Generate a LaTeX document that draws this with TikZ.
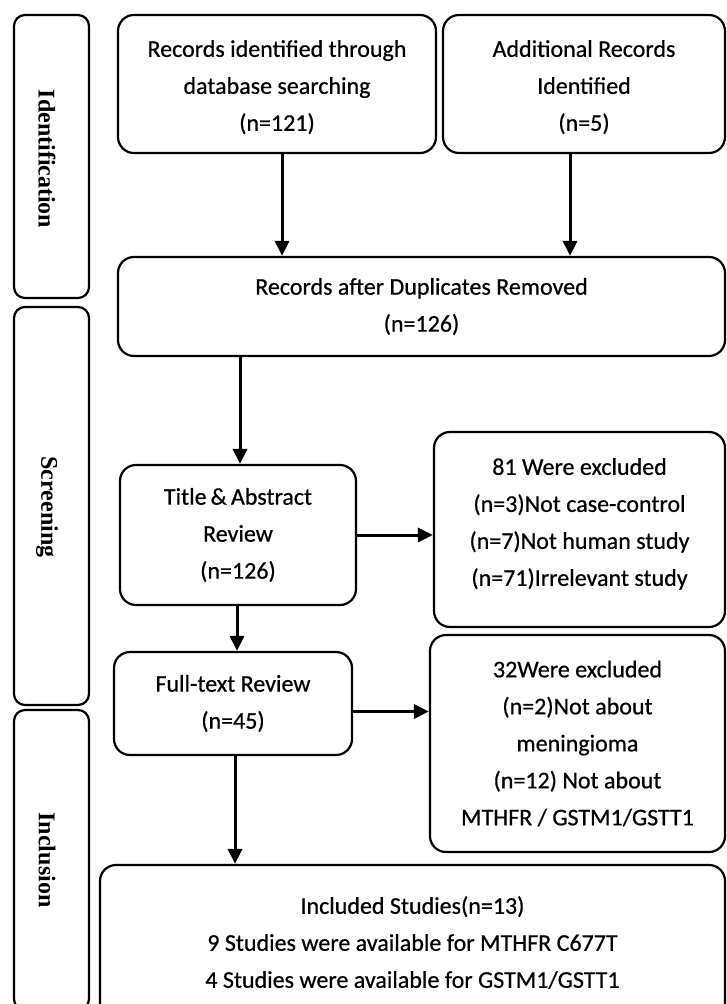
\documentclass[tikz,border=0pt]{standalone}
\usepackage{fontspec}
\setmainfont{Carlito}
\newfontfamily\boxfont{Carlito}[BoldFont=Carlito, BoldFeatures={FakeBold=0.6}]
\newfontfamily\sidefont{Liberation Serif}
\usetikzlibrary{arrows.meta}
\begin{document}
\begin{tikzpicture}[x=1pt,y=-1pt,
  box/.style={draw, line width=2.2pt, rounded corners=16pt, align=center, inner sep=0pt,
              font=\boxfont\bfseries\fontsize{24}{37}\selectfont},
  side/.style={draw, line width=2.2pt, rounded corners=11pt, inner sep=0pt,
              minimum width=75pt},
  sidelabel/.style={rotate=-90, inner sep=0pt, font=\sidefont\bfseries\fontsize{24}{28}\selectfont},
  arr/.style={line width=3pt, -{Triangle[length=15pt,width=14pt]}}]
\useasboundingbox (0,0) rectangle (727,1004);
\fill[white] (0,0) rectangle (727,1004);
\begin{scope}
\clip (0,0) rectangle (727,1004);
% side stage boxes
\node[side, minimum height=283pt] (sid) at (51.5,156.5) {};
\node[sidelabel] (sidl) at (47,159) {Identification};
\node[side, minimum height=398pt] (ssc) at (51.5,506) {};
\node[sidelabel] (sscl) at (47,507) {Screening};
\node[side, minimum height=300pt] (sin) at (51.5,860) {};
\node[sidelabel] (sinl) at (47,860) {Inclusion};
% main boxes
\node[box, minimum width=318pt, minimum height=138pt] (rec) at (277,84)
  {\mbox{}\\[-14pt]Records identified through\\database searching\\(n=121)};
\node[box, minimum width=282pt, minimum height=138pt] (add) at (584,84)
  {\mbox{}\\[-14pt]Additional Records\\Identified\\(n=5)};
\node[box, minimum width=607pt, minimum height=99pt] (dup) at (421.5,306.5)
  {Records after Duplicates Removed\\(n=126)};
\node[box, minimum width=236pt, minimum height=140pt] (tit) at (238,535)
  {Title\,\&\,Abstract\\Review\\(n=126)};
\node[box, minimum width=291pt, minimum height=195pt] (ex1) at (579.5,529.5)
  {81 Were excluded\\(n=3)Not case-control\\(n=7)Not human study\\(n=71)Irrelevant study\\[-22pt]\mbox{}};
\node[box, minimum width=238pt, minimum height=103pt] (ful) at (233,703.5)
  {Full-text Review\\(n=45)};
\node[box, minimum width=295pt, minimum height=217pt] (ex2) at (577.5,743.5)
  {32Were excluded\\(n=2)Not about\\meningioma\\(n=12) Not about\\MTHFR / GSTM1/GSTT1};
\node[box, minimum width=625pt, minimum height=155pt] (inc) at (412.5,942.5)
  {Included Studies(n=13)\\9 Studies were available for MTHFR C677T\\4 Studies were available for GSTM1/GSTT1};
\end{scope}
% connectors
\draw[arr] ([xshift=5pt]rec.south) -- ([xshift=5pt]rec.south |- dup.north);
\draw[arr] ([xshift=-14pt]add.south) -- ([xshift=-14pt]add.south |- dup.north);
\draw[arr] ([xshift=2pt]tit.north |- dup.south) -- ([xshift=2pt]tit.north);
\draw[arr] ([xshift=-1pt]tit.south) -- ([xshift=-1pt]tit.south |- ful.north);
\draw[arr] (tit.east) -- (tit.east -| ex1.west);
\draw[arr] ([yshift=-8pt]ful.east) -- ([yshift=-8pt]ful.east -| ex2.west);
\draw[arr] ([xshift=2pt]ful.south) -- ([xshift=2pt]ful.south |- inc.north);
\end{tikzpicture}
\end{document}
